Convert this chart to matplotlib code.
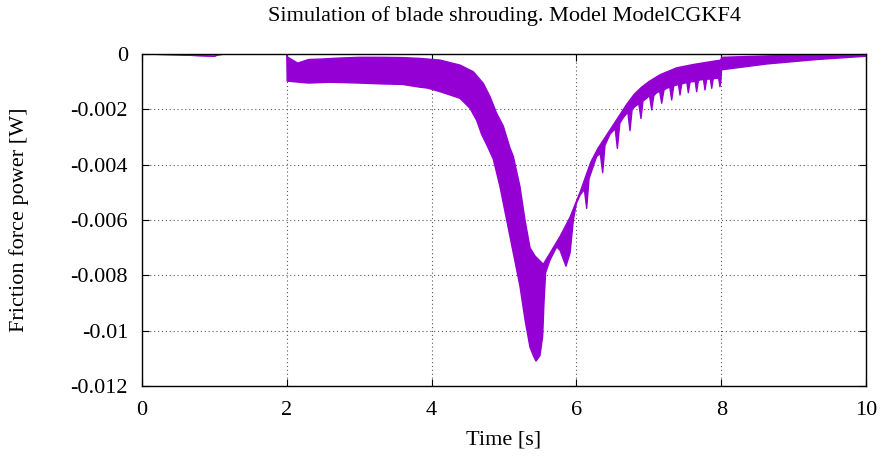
import numpy as np
import matplotlib
matplotlib.use("Agg")
import matplotlib.pyplot as plt

plt.rcParams['font.family'] = ['Liberation Serif', 'DejaVu Serif']

# upper envelope of the oscillating friction power signal
t_upper = [0, 0.5, 0.9, 1.0, 1.05, 1.15, 2.0, 2.005, 2.15, 2.3, 2.5, 2.7, 3.0, 3.3, 3.6,
           3.84, 4.116, 4.392, 4.576, 4.714, 4.807, 4.899, 4.99, 5.083, 5.129, 5.221,
           5.29, 5.359, 5.428, 5.543, 5.681, 5.773, 5.912, 6.05, 6.2, 6.3, 6.4, 6.5,
           6.6, 6.7, 6.8, 6.9, 7.0, 7.155, 7.385, 7.615, 7.8, 7.995, 8.005, 8.5, 9.0,
           9.5, 10.0]
p_upper = [0, -0.00003, -0.00007, -0.00008, -0.00003, 0, 0, -0.0001, -0.00033, -0.0002,
           -0.00018, -0.00015, -0.00012, -0.00012, -0.00013, -0.00016, -0.00022, -0.0004,
           -0.00064, -0.00106, -0.00154, -0.00215, -0.0026, -0.0034, -0.0037, -0.0048,
           -0.0060, -0.0070, -0.0073, -0.0076, -0.0070, -0.0066, -0.0059, -0.0050,
           -0.0039, -0.0034, -0.0030, -0.0026, -0.0022, -0.0018, -0.00145, -0.0012,
           -0.0010, -0.00075, -0.0005, -0.00038, -0.0003, -0.00022, -0.00012, -0.00008,
           -0.00004, -0.00002, 0]

# lower envelope, with the periodic dips between 6 s and 8 s
t_lower = [0, 0.5, 0.9, 1.0, 1.05, 1.15, 2.0, 2.005, 2.3, 2.6, 3.0, 3.3, 3.6, 3.84, 3.94,
           4.116, 4.392, 4.53, 4.623, 4.69, 4.783, 4.852, 4.945, 5.037, 5.129, 5.175,
           5.221, 5.29, 5.359, 5.405, 5.442, 5.497, 5.534, 5.552, 5.575, 5.635, 5.728,
           5.775, 5.856, 5.912, 5.958, 6.0, 6.05, 6.11, 6.142, 6.175, 6.28, 6.33, 6.363,
           6.395, 6.464, 6.535, 6.566, 6.60, 6.648, 6.71, 6.74, 6.77, 6.809, 6.862,
           6.892, 6.92, 6.971, 7.01, 7.04, 7.07, 7.109, 7.15, 7.178, 7.21, 7.247, 7.29,
           7.316, 7.345, 7.385, 7.41, 7.431, 7.455, 7.486, 7.525, 7.546, 7.57, 7.615,
           7.64, 7.661, 7.685, 7.707, 7.755, 7.776, 7.80, 7.822, 7.85, 7.869, 7.89,
           7.938, 7.965, 7.983, 7.995, 8.005, 8.63, 9.32, 10.0]
p_lower = [0, -0.00003, -0.00007, -0.00008, -0.00003, 0, 0, -0.00098, -0.00105, -0.00102,
           -0.00105, -0.00108, -0.0011, -0.0012, -0.00123, -0.00136, -0.0016, -0.00196,
           -0.0024, -0.0029, -0.0034, -0.0038, -0.0048, -0.0060, -0.0072, -0.0078,
           -0.0084, -0.0096, -0.0106, -0.0109, -0.0111, -0.0109, -0.0102, -0.0090,
           -0.0079, -0.00745, -0.00697, -0.0071, -0.00767, -0.0072, -0.0060, -0.0054,
           -0.0051, -0.0049, -0.00558, -0.0045, -0.0037, -0.0036, -0.00429, -0.0033,
           -0.0029, -0.0027, -0.00341, -0.0025, -0.0023, -0.0021, -0.00277, -0.0020,
           -0.0019, -0.0018, -0.00233, -0.0017, -0.0016, -0.0015, -0.00202, -0.0015,
           -0.0014, -0.00135, -0.00178, -0.0013, -0.00124, -0.0012, -0.00166, -0.00115,
           -0.00112, -0.0011, -0.00148, -0.00108, -0.00106, -0.00103, -0.0014, -0.00101,
           -0.0010, -0.00098, -0.00136, -0.00096, -0.00094, -0.00092, -0.0013, -0.00091,
           -0.00091, -0.0009, -0.00124, -0.00089, -0.00088, -0.00088, -0.00118, -0.0010,
           -0.00057, -0.00036, -0.0002, -0.00008]

x_ticks = [0, 2, 4, 6, 8, 10]
y_ticks = [0, -0.002, -0.004, -0.006, -0.008, -0.01, -0.012]
y_labels = ['0', '-0.002', '-0.004', '-0.006', '-0.008', '-0.01', '-0.012']

color = '#9400d3'
fs = 16

fig = plt.figure(figsize=(8.85, 4.61), dpi=100)
ax = fig.add_axes([142 / 885, 1 - 386 / 461, 724 / 885, 332 / 461])

# band between the envelopes as one polygon
ax.fill(np.r_[t_upper, t_lower[::-1]], np.r_[p_upper, p_lower[::-1]],
        color=color, lw=0, zorder=3)
ax.plot(t_upper, p_upper, color=color, lw=1.0, zorder=3)
ax.plot(t_lower, p_lower, color=color, lw=1.0, zorder=3)

ax.set_xlim(0, 10)
ax.set_ylim(-0.012, 0)
ax.set_xticks(x_ticks)
ax.set_xticklabels([str(v) for v in x_ticks])
ax.set_yticks(y_ticks)
ax.set_yticklabels(y_labels)
ax.tick_params(direction='in', length=5, width=0.8, top=True, right=True,
               labelsize=fs, colors='black')
ax.tick_params(axis='x', pad=11)
ax.tick_params(axis='y', pad=10)
ax.grid(True, color='0.35', linestyle=(0, (1, 2.5)), linewidth=0.8, zorder=1)
for s in ax.spines.values():
    s.set_linewidth(1.0)
    s.set_zorder(4)

ax.set_title('Simulation of blade shrouding. Model ModelCGKF4', fontsize=fs,
             y=(386 - 16) / 332, va='center', pad=0)
ax.set_xlabel('Time [s]', fontsize=fs)
ax.xaxis.set_label_coords(0.5, (386 - 440) / 332)
ax.xaxis.label.set_va('center')
ax.set_ylabel('Friction force power [W]', fontsize=fs)
ax.yaxis.set_label_coords((19 - 142) / 724, 0.5)
ax.yaxis.label.set_va('center')

fig.savefig('out.png', dpi=100)
